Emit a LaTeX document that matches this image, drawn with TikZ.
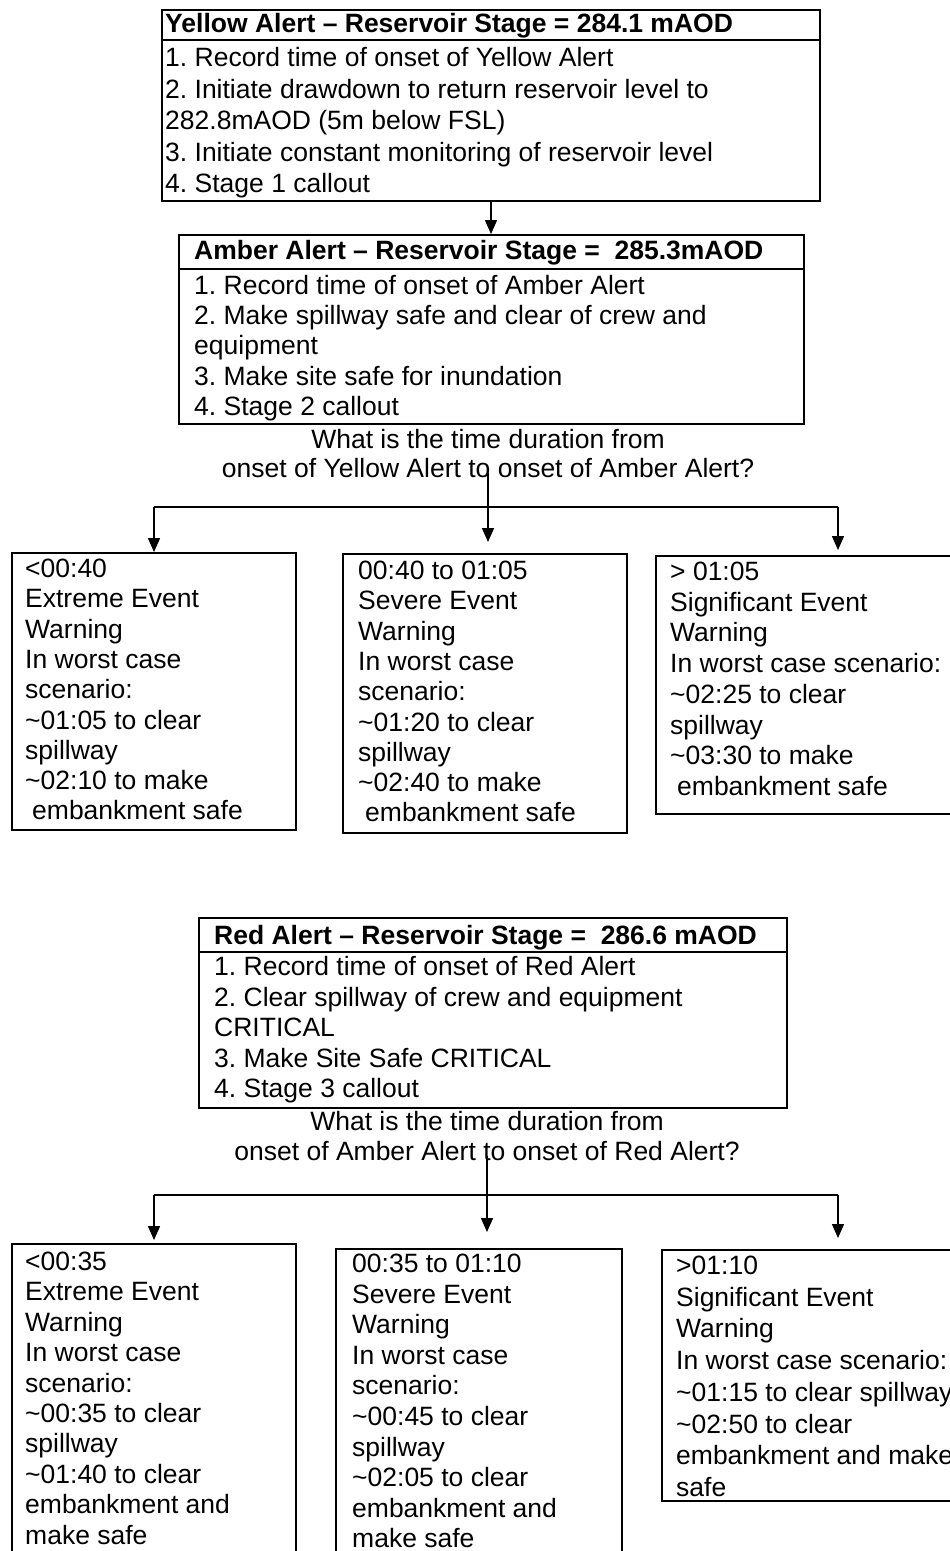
\documentclass[tikz,border=0pt]{standalone}
\usepackage{fontspec}
\setmainfont{Liberation Sans}
\frenchspacing
\usetikzlibrary{arrows.meta}
\newcommand{\txtlines}[5]{%
  \foreach \t [count=\i from 0] in {#5} {
    \node[txt] (#1-\i) at ({#2},{#3+\i*#4}) {\t};
  }%
}
\begin{document}
\begin{tikzpicture}[x=1pt,y=-1pt,
  boxframe/.style={draw, line width=2pt, rectangle, inner sep=0pt, anchor=north west},
  txt/.style={anchor=base west, inner sep=0pt, font=\fontsize{26.5}{30}\selectfont\frenchspacing},
  ttl/.style={txt, font=\fontsize{26.5}{30}\selectfont\bfseries\frenchspacing},
  qtxt/.style={anchor=base, inner sep=0pt, font=\fontsize{26.5}{30}\selectfont\frenchspacing},
  sep/.style={line width=2pt},
  conn/.style={line width=1.5pt},
  arr/.style={conn, -{Triangle[length=14pt,width=12pt]}}]
\fill[white] (0,0) rectangle (950,1551);
\useasboundingbox (0,0) rectangle (950,1551);

% Yellow alert
\node[boxframe, minimum width=658pt, minimum height=191pt] (yellow) at (161,9) {};
\draw[sep] (yellow.west |- 0,40) -- (yellow.east |- 0,40);
\node[ttl] (yellowtitle) at (165,32) {Yellow Alert – Reservoir Stage = 284.1 mAOD};
\txtlines{y}{165}{66.5}{31.5}{1. Record time of onset of Yellow Alert,
  2. Initiate drawdown to return reservoir level to,
  282.8mAOD (5m below FSL),
  3. Initiate constant monitoring of reservoir level,
  4. Stage 1 callout}

% Amber alert
\node[boxframe, minimum width=625pt, minimum height=189pt] (amber) at (178,234) {};
\draw[sep] (amber.west |- 0,269) -- (amber.east |- 0,269);
\node[ttl] (ambertitle) at (194,259.5) {Amber Alert – Reservoir Stage =\ \ 285.3mAOD};
\txtlines{a}{194}{294.5}{30.2}{1. Record time of onset of Amber Alert,
  2. Make spillway safe and clear of crew and,
  equipment,
  3. Make site safe for inundation,
  4. Stage 2 callout}

\draw[arr] (yellow.south) -- (yellow.south |- amber.north);

% Question 1
\node[qtxt] (q1a) at (488,448.5) {What is the time duration from};
\node[qtxt] (q1b) at (488,477.5) {onset of Yellow Alert to onset of Amber Alert?};

% Row 1 boxes
\node[boxframe, minimum width=284pt, minimum height=277pt] (b1) at (11,552) {};
\node[boxframe, minimum width=284pt, minimum height=279pt] (b2) at (342,553) {};
\node[boxframe, minimum width=364pt, minimum height=258pt] (b3) at (655,555) {};
\txtlines{ba}{25}{577.5}{30.3}{<00:40, Extreme Event, Warning, In worst case, scenario:,
  \textasciitilde01:05 to clear, spillway, \textasciitilde02:10 to make, \hspace*{7pt}embankment safe}
\txtlines{bb}{358}{579.5}{30.3}{00:40 to 01:05, Severe Event, Warning, In worst case, scenario:,
  \textasciitilde01:20 to clear, spillway, \textasciitilde02:40 to make, \hspace*{7pt}embankment safe}
\txtlines{bc}{670}{580.5}{30.7}{> 01:05, Significant Event, Warning, In worst case scenario:,
  \textasciitilde02:25 to clear, spillway, \textasciitilde03:30 to make, \hspace*{7pt}embankment safe}

\coordinate (br1) at (q1b.south |- 0,507);
\draw[conn] ([yshift=5pt]q1b.south) -- (br1);
\draw[conn] (b1.north |- br1) -- (b3.north |- br1);
\draw[arr] (b1.north |- br1) -- (b1.north);
\draw[arr, shorten >=11pt] (br1) -- (br1 |- b2.north);
\draw[arr, shorten >=5pt] (b3.north |- br1) -- (b3.north);

% Red alert
\node[boxframe, minimum width=588pt, minimum height=190pt] (red) at (198,917) {};
\draw[sep] (red.west |- 0,952) -- (red.east |- 0,952);
\node[ttl] (redtitle) at (214,944.5) {Red Alert – Reservoir Stage =\ \ 286.6 mAOD};
\txtlines{r}{214}{975.5}{30.5}{1. Record time of onset of Red Alert,
  2. Clear spillway of crew and equipment,
  CRITICAL,
  3. Make Site Safe CRITICAL,
  4. Stage 3 callout}

% Question 2
\node[qtxt] (q2a) at (487,1130.5) {What is the time duration from};
\node[qtxt] (q2b) at (487,1160.5) {onset of Amber Alert to onset of Red Alert?};

% Row 2 boxes
\node[boxframe, minimum width=284pt, minimum height=400pt] (c1) at (11,1243) {};
\node[boxframe, minimum width=286pt, minimum height=400pt] (c2) at (335,1248) {};
\node[boxframe, minimum width=352pt, minimum height=251pt] (c3) at (661,1249) {};
\txtlines{ca}{25}{1270.5}{30.4}{<00:35, Extreme Event, Warning, In worst case, scenario:,
  \textasciitilde00:35 to clear, spillway, \textasciitilde01:40 to clear, embankment and, make safe}
\txtlines{cb}{352}{1272.5}{30.6}{00:35 to 01:10, Severe Event, Warning, In worst case, scenario:,
  \textasciitilde00:45 to clear, spillway, \textasciitilde02:05 to clear, embankment and, make safe}
\txtlines{cc}{676}{1274.5}{31.7}{>01:10, Significant Event, Warning, In worst case scenario:,
  \textasciitilde01:15 to clear spillway, \textasciitilde02:50 to clear, embankment and make, safe}

\coordinate (br2) at (q2b.south |- 0,1195);
\draw[conn] ([yshift=5pt]q2b.south) -- (br2);
\draw[conn] (c1.north |- br2) -- (c3.north |- br2);
\draw[arr, shorten >=3pt] (c1.north |- br2) -- (c1.north);
\draw[arr, shorten >=16pt] (br2) -- (br2 |- c2.north);
\draw[arr, shorten >=11pt] (c3.north |- br2) -- (c3.north);
\end{tikzpicture}
\end{document}
